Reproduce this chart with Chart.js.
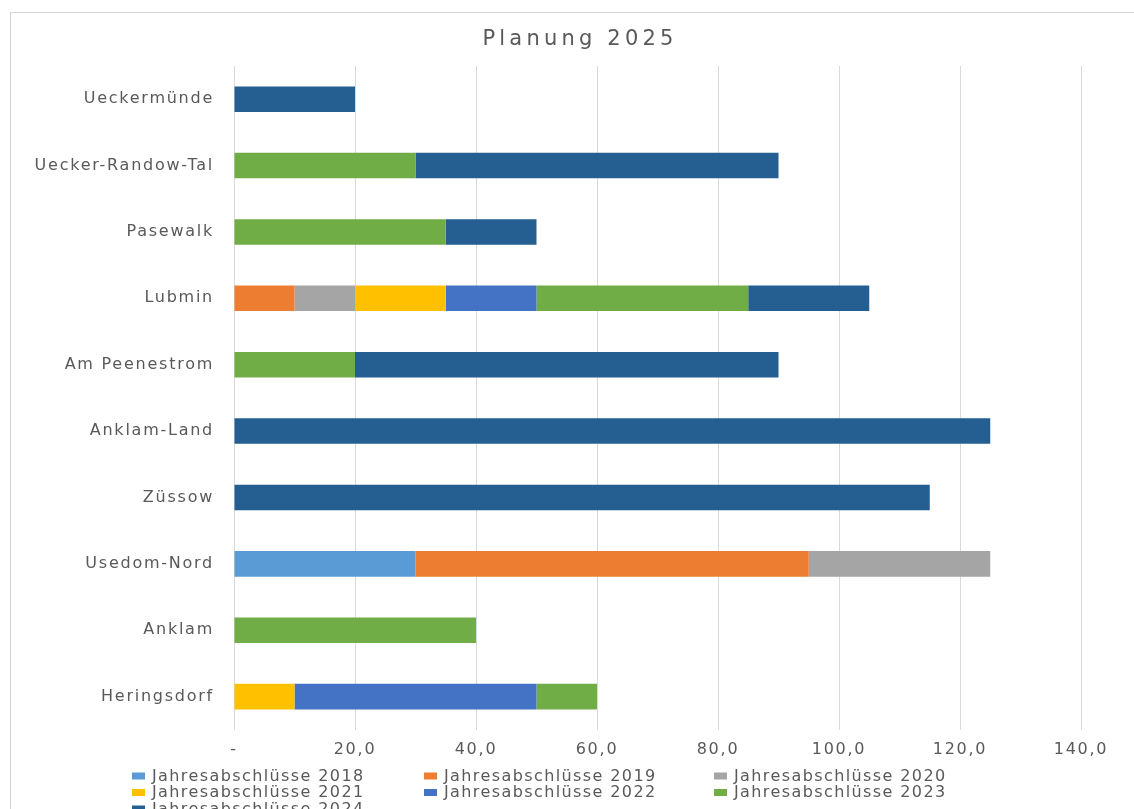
<!DOCTYPE html>
<html>
<head>
<meta charset="utf-8">
<script src="https://cdn.jsdelivr.net/npm/chart.js@4/dist/chart.umd.min.js"></script>
<style>
  html, body { margin: 0; padding: 0; background: #fff; overflow: hidden; }
  #wrap { position: relative; width: 1134px; height: 809px; }
  #frame { position: absolute; left: 10px; top: 12px; width: 1200px; height: 1000px; border: 1px solid #d4d4d4; box-sizing: border-box; }
  canvas { position: absolute; left: 0; top: 0; }
</style>
</head>
<body>
<div id="wrap">
  <div id="frame"></div>
  <canvas id="c" width="1134" height="809"></canvas>
</div>
<script>
const title = 'Planung 2025';
const categories = ['Ueckermünde', 'Uecker-Randow-Tal', 'Pasewalk', 'Lubmin', 'Am Peenestrom', 'Anklam-Land', 'Züssow', 'Usedom-Nord', 'Anklam', 'Heringsdorf'];
const seriesNames = ['Jahresabschlüsse 2018', 'Jahresabschlüsse 2019', 'Jahresabschlüsse 2020', 'Jahresabschlüsse 2021', 'Jahresabschlüsse 2022', 'Jahresabschlüsse 2023', 'Jahresabschlüsse 2024'];
const seriesColors = ['#5b9bd5', '#ed7d31', '#a5a5a5', '#ffc000', '#4472c4', '#70ad47', '#255e91'];
const v2018 = [0, 0, 0, 0, 0, 0, 0, 30, 0, 0];
const v2019 = [0, 0, 0, 10, 0, 0, 0, 65, 0, 0];
const v2020 = [0, 0, 0, 10, 0, 0, 0, 30, 0, 0];
const v2021 = [0, 0, 0, 15, 0, 0, 0, 0, 0, 10];
const v2022 = [0, 0, 0, 15, 0, 0, 0, 0, 0, 40];
const v2023 = [0, 30, 35, 35, 20, 0, 0, 0, 40, 10];
const v2024 = [20, 60, 15, 20, 70, 125, 115, 0, 0, 0];
const seriesValues = [v2018, v2019, v2020, v2021, v2022, v2023, v2024];
const xTicks = [0, 20, 40, 60, 80, 100, 120, 140];

const textColor = '#595959';
const fontFamily = '"DejaVu Sans", sans-serif';
const tickSpacing = '1.75px';

const datasets = seriesNames.map((name, i) => ({
  label: name,
  data: seriesValues[i],
  backgroundColor: seriesColors[i],
  borderWidth: 0,
  barPercentage: 0.385,
  categoryPercentage: 1.0
}));

const decor = {
  id: 'decor',
  beforeLayout(chart) { chart.ctx.letterSpacing = tickSpacing; },
  beforeDraw(chart) { chart.ctx.letterSpacing = tickSpacing; },
  afterDraw(chart) {
    const ctx = chart.ctx;
    ctx.save();
    // title
    ctx.letterSpacing = '4.2px';
    ctx.font = '21px ' + fontFamily;
    ctx.fillStyle = textColor;
    ctx.textAlign = 'center';
    ctx.textBaseline = 'alphabetic';
    ctx.fillText(title, 580, 45);
    // legend
    ctx.letterSpacing = '1.4px';
    ctx.font = '16px ' + fontFamily;
    ctx.textAlign = 'left';
    ctx.textBaseline = 'middle';
    const colX = [132, 424, 714];
    const rowY = [776, 792.5, 809];
    chart.data.datasets.forEach((ds, i) => {
      const x = colX[i % 3];
      const y = rowY[Math.floor(i / 3)];
      ctx.fillStyle = ds.backgroundColor;
      ctx.fillRect(x, y - 3.5, 13, 7);
      ctx.fillStyle = textColor;
      ctx.fillText(ds.label, x + 20, y + 0.5);
    });
    ctx.restore();
  }
};

new Chart(document.getElementById('c'), {
  type: 'bar',
  data: { labels: categories, datasets },
  options: {
    indexAxis: 'y',
    responsive: false,
    animation: false,
    layout: { padding: { top: 66, right: 53, bottom: 40, left: 0 } },
    plugins: {
      legend: { display: false },
      title: { display: false },
      tooltip: { enabled: false }
    },
    scales: {
      x: {
        stacked: true,
        min: 0,
        max: 140,
        afterBuildTicks(scale) { scale.ticks = xTicks.map(v => ({ value: v })); },
        grid: { color: '#d9d9d9', lineWidth: 1, drawTicks: false },
        border: { display: false },
        ticks: {
          color: textColor,
          font: { family: fontFamily, size: 16 },
          padding: 10,
          maxRotation: 0,
          callback: (v) => v === 0 ? '-' : v.toFixed(1).replace('.', ',')
        }
      },
      y: {
        stacked: true,
        afterFit(scale) { scale.width = 234; },
        grid: { display: false, drawTicks: false },
        border: { display: false },
        ticks: {
          color: textColor,
          font: { family: fontFamily, size: 16 },
          padding: 20,
          autoSkip: false
        }
      }
    }
  },
  plugins: [decor]
});
</script>
</body>
</html>
